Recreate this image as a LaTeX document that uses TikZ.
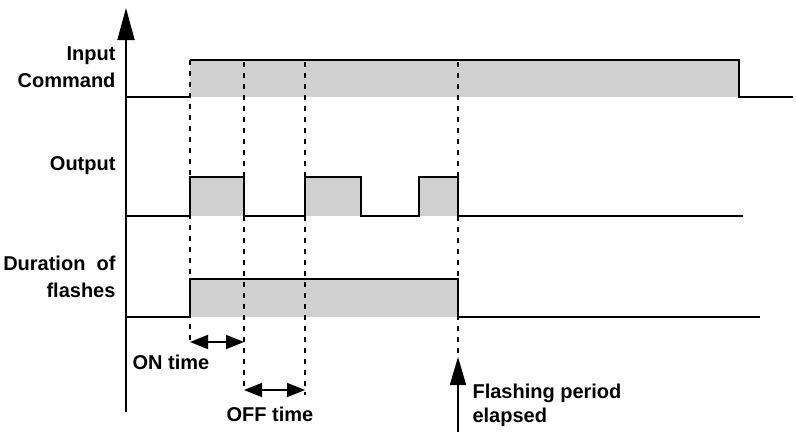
\documentclass[tikz,border=0pt]{standalone}
\usepackage{fontspec}
\setmainfont{Liberation Sans}
\usetikzlibrary{arrows.meta}
\definecolor{pulsegray}{RGB}{208,208,208}

\begin{document}
\begin{tikzpicture}[x=1pt,y=-1pt,
  sig/.style={line width=1.8pt},
  guide/.style={line width=1.4pt,dash pattern=on 5pt off 6pt},
  lbl/.style={font=\fontsize{20}{27}\selectfont\bfseries},
  span/.style={line width=1.6pt,{Triangle[length=18pt,width=14pt]}-{Triangle[length=18pt,width=14pt]}}]
\useasboundingbox (0,0) rectangle (796,432);

% shaded levels
\fill[pulsegray] (190,60) rectangle (739,97);
\fill[pulsegray] (190,177) rectangle (244,216);
\fill[pulsegray] (305,177) rectangle (361,216);
\fill[pulsegray] (419,177) rectangle (458,216);
\fill[pulsegray] (190,279) rectangle (458,317);

% dashed guides
\draw[guide] (190,60) -- (190,342);
\draw[guide] (244,62) -- (244,390);
\draw[guide] (305,62) -- (305,395);
\draw[guide] (458,62) -- (458,357);

% signals
\draw[sig] (126,97) -- (190,97);
\draw[sig] (190,60) -- (739,60) -- (739,97) -- (793,97);
\draw[sig] (126,216) -- (190,216) -- (190,177) -- (244,177) -- (244,216) -- (305,216)
  -- (305,177) -- (361,177) -- (361,216) -- (419,216) -- (419,177) -- (458,177)
  -- (458,216) -- (743,216);
\draw[sig] (126,317) -- (190,317) -- (190,279) -- (458,279) -- (458,317) -- (760,317);

% axis
\coordinate (axis-foot) at (126,412);
\coordinate (axis-top) at (126,8);
\draw[sig,-{Triangle[length=32pt,width=17pt]}] (axis-foot) -- (axis-top);

% labels
\node[lbl,anchor=east,align=right] (input) at (119,67) {Input\\Command};
\node[lbl,anchor=east,align=right] (output) at (119,166) {Output};
\node[lbl,anchor=east,align=right] (duration) at (119,277) {Duration~ of\\flashes};

% on / off spans
\coordinate (on-a) at (190,342);
\coordinate (on-b) at (244,342);
\draw[span] (on-a) -- (on-b);
\node[lbl] (on) at (171,362) {ON time};
\coordinate (off-a) at (244,390);
\coordinate (off-b) at (305,390);
\draw[span] (off-a) -- (off-b);
\node[lbl] (off) at (270,414) {OFF time};

% end of flashing
\coordinate (flash-foot) at (458,432);
\coordinate (flash-tip) at (458,357);
\draw[sig,-{Triangle[length=28pt,width=16pt]}] (flash-foot) -- (flash-tip);
\node[lbl,anchor=west,align=left,font=\fontsize{20}{24}\selectfont\bfseries] (flash) at (469,405) {Flashing period\\elapsed};
\end{tikzpicture}
\end{document}
